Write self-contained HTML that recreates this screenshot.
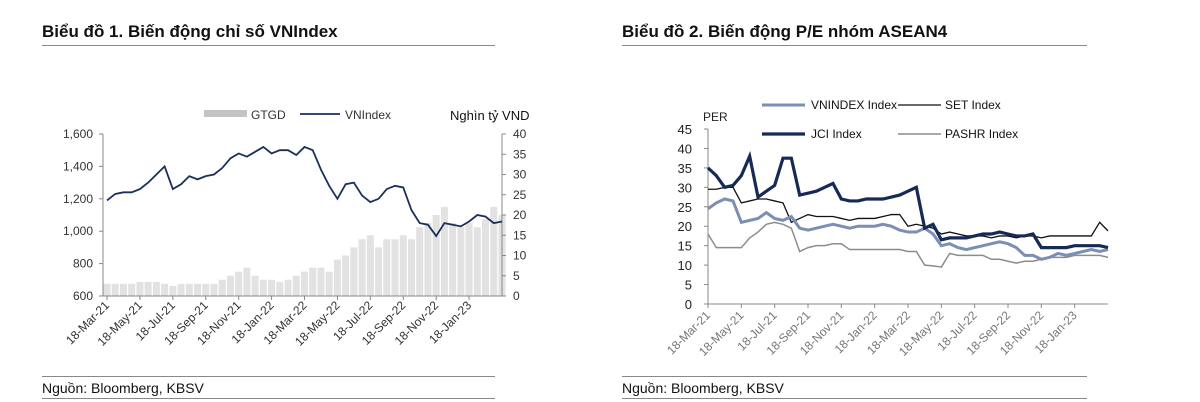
<!DOCTYPE html>
<html><head><meta charset="utf-8"><style>
body{margin:0;background:#fff;width:1200px;height:402px;overflow:hidden;font-family:"Liberation Sans","Noto Sans CJK JP",sans-serif}
svg{display:block}
</style></head><body>
<svg id="s" width="1200" height="402" xmlns="http://www.w3.org/2000/svg" font-family="Liberation Sans, Noto Sans CJK JP, sans-serif">
<text x="42" y="37" font-size="17" font-weight="bold" fill="#111">Biểu đồ 1. Biến động chỉ số VNIndex</text>
<line x1="42" y1="45.5" x2="495" y2="45.5" stroke="#888"/>
<text x="622" y="37" font-size="17" font-weight="bold" fill="#111">Biểu đồ 2. Biến động P/E nhóm ASEAN4</text>
<line x1="622" y1="45.5" x2="1087" y2="45.5" stroke="#888"/>
<line x1="42" y1="376.5" x2="495" y2="376.5" stroke="#888"/>
<line x1="42" y1="398.5" x2="495" y2="398.5" stroke="#888"/>
<text x="42" y="393" font-size="14" fill="#111">Nguồn: Bloomberg, KBSV</text>
<line x1="622" y1="376.5" x2="1087" y2="376.5" stroke="#888"/>
<line x1="622" y1="398.5" x2="1087" y2="398.5" stroke="#888"/>
<text x="622" y="393" font-size="14" fill="#111">Nguồn: Bloomberg, KBSV</text>
<g id="c1"></g>
<g id="c2"></g>
</svg>
<script>
const dateLabels=["18-Mar-21","18-May-21","18-Jul-21","18-Sep-21","18-Nov-21","18-Jan-22","18-Mar-22","18-May-22","18-Jul-22","18-Sep-22","18-Nov-22","18-Jan-23"];
const vnIndex=[1190,1230,1240,1240,1260,1300,1350,1400,1260,1290,1340,1320,1340,1350,1390,1450,1480,1460,1490,1520,1480,1500,1500,1470,1520,1500,1380,1280,1200,1290,1300,1220,1180,1200,1260,1280,1270,1130,1050,1040,970,1050,1040,1030,1060,1100,1090,1050,1060];
const volume=[3,3,3,3,3.5,3.5,3.5,3,2.5,3,3,3,3,3,4,5,6,7,5,4,4,3.5,4,5,6,7,7,6,9,10,12,14,15,12,14,14,15,14,17,18,20,22,18,17,18,17,19,22,20];
const leftTicks=[600,800,1000,1200,1400,1600];
const rightTicks=[0,5,10,15,20,25,30,35,40];
const peTicks=[0,5,10,15,20,25,30,35,40,45];
const peVN=[24.5,26,27,26.5,21,21.5,22,23.5,22,21.5,22.5,19.5,19,19.5,20,20.5,20,19.5,20,20,20,20.5,20,19,18.5,18.5,19.5,18,15,15.5,14.5,14,14.5,15,15.5,16,15.5,14.5,12.5,12.5,11.5,12,13,12.5,13,13.5,14,13.5,14];
const peSET=[29.5,29.5,30,30,26,26.5,27,27,26.5,26,21,22,23,22.5,22.5,22.5,22,21.5,22,22,22,22.5,23,23,20,20.5,20,19.5,18,18.5,18,17.5,17.5,17.5,17,17.5,17.5,17,17.5,17.5,17,17.5,17.5,17.5,17.5,17.5,17.5,21,18.8];
const peJCI=[35,33,30,30.5,33,38,27.5,29,30.5,37.5,37.5,28,28.5,29,30,31,27,26.5,26.5,27,27,27,27.5,28,29,30,19.5,20.5,16.5,17,17,17,17.5,18,18,18.5,18,17.5,17.5,18,14.5,14.5,14.5,14.5,15,15,15,15,14.5];
const pePASHR=[18,14.5,14.5,14.5,14.5,17,18.5,20.5,21,20.5,19.5,13.5,14.5,15,15,15.5,15.5,14,14,14,14,14,14,14,13.5,13.5,10,9.8,9.5,13,12.5,12.5,12.5,12.5,11.5,11.5,11,10.5,11,11,11.5,12,12,12,12.5,12.5,12.5,12.5,12];

const NS="http://www.w3.org/2000/svg";
function mk(p,t,a){const e=document.createElementNS(NS,t);for(const k in a)e.setAttribute(k,a[k]);p.appendChild(e);return e;}
// Chart 1
const c1=document.getElementById('c1');
const X1=i=>107+i*(395/48), YL=v=>296-(v-600)*(162/1000), YR=v=>296-v*(162/40);
volume.forEach((v,i)=>{const r=mk(c1,'rect',{x:X1(i)-3.5,y:YR(v),width:7,height:296-YR(v),fill:'#e2e2e2'});

});
mk(c1,'line',{x1:103,y1:134,x2:103,y2:296,stroke:'#888'});
mk(c1,'line',{x1:502,y1:134,x2:502,y2:296,stroke:'#888'});
mk(c1,'line',{x1:103,y1:296,x2:502,y2:296,stroke:'#888'});
leftTicks.forEach(v=>{mk(c1,'line',{x1:99,y1:YL(v),x2:103,y2:YL(v),stroke:'#888'});
const t=mk(c1,'text',{x:93,y:YL(v)+4,'font-size':12,'text-anchor':'end',fill:'#333'});t.textContent=v.toLocaleString('en-US');

});
rightTicks.forEach(v=>{mk(c1,'line',{x1:502,y1:YR(v),x2:506,y2:YR(v),stroke:'#888'});
const t=mk(c1,'text',{x:513,y:YR(v)+4,'font-size':12,fill:'#333'});t.textContent=v;

});
dateLabels.forEach((d,k)=>{const x=X1(4*k);mk(c1,'line',{x1:x,y1:296,x2:x,y2:300,stroke:'#888'});
const t=mk(c1,'text',{x:x+3,y:306,'font-size':12,'text-anchor':'end',fill:'#333',transform:`rotate(-45 ${x+3} 306)`});t.textContent=d;

});
const l1=mk(c1,'polyline',{points:vnIndex.map((v,i)=>X1(i)+','+YL(v)).join(' '),fill:'none',stroke:'#1a2f5a','stroke-width':1.8});


mk(c1,'rect',{x:204,y:110,width:43,height:7,fill:'#c4c4c4'});
let t=mk(c1,'text',{x:251,y:119,'font-size':12,fill:'#333'});t.textContent='GTGD';


mk(c1,'line',{x1:300,y1:114,x2:340,y2:114,stroke:'#1a2f5a','stroke-width':1.8});
t=mk(c1,'text',{x:345,y:119,'font-size':12,fill:'#333'});t.textContent='VNIndex';


t=mk(c1,'text',{x:450,y:120,'font-size':13,fill:'#111'});t.textContent='Nghìn tỷ VND';


// Chart 2
const c2=document.getElementById('c2');
const X2=i=>708+i*(400/48), Y2=v=>304-v*(175/45);
mk(c2,'line',{x1:708,y1:129,x2:708,y2:304,stroke:'#888'});
mk(c2,'line',{x1:708,y1:304,x2:1108,y2:304,stroke:'#888'});
peTicks.forEach(v=>{mk(c2,'line',{x1:704,y1:Y2(v),x2:708,y2:Y2(v),stroke:'#888'});
const t=mk(c2,'text',{x:692,y:Y2(v)+5,'font-size':13,'text-anchor':'end',fill:'#222'});t.textContent=v;

});
dateLabels.forEach((d,k)=>{const x=X2(4*k);mk(c2,'line',{x1:x,y1:304,x2:x,y2:308,stroke:'#888'});
const t=mk(c2,'text',{x:x+3,y:316,'font-size':12,'text-anchor':'end',fill:'#777',transform:`rotate(-45 ${x+3} 316)`});t.textContent=d;

});
t=mk(c2,'text',{x:703,y:121,'font-size':12,fill:'#222'});t.textContent='PER';


const series=[[pePASHR,'#8c8c8c',1.5,'pashr-line'],[peSET,'#111',1.3,'set-line'],[peVN,'#7a8fb3',3,'vnindex-pe-line'],[peJCI,'#152a55',3.2,'jci-line']];
series.forEach(([d,c,w,n])=>{const p=mk(c2,'polyline',{points:d.map((v,i)=>X2(i)+','+Y2(v)).join(' '),fill:'none',stroke:c,'stroke-width':w});

});
const leg=[[762,105,'#7a8fb3',3,'VNINDEX Index',811],[898,105,'#111',1.3,'SET Index',945],[762,134,'#152a55',3.2,'JCI Index',811],[898,134,'#8c8c8c',1.5,'PASHR Index',945]];
leg.forEach(([x,y,c,w,s,tx])=>{mk(c2,'line',{x1:x,y1:y,x2:x+43,y2:y,stroke:c,'stroke-width':w});
const t=mk(c2,'text',{x:tx,y:y+4,'font-size':12,fill:'#111'});t.textContent=s;

});
</script>
</body></html>
